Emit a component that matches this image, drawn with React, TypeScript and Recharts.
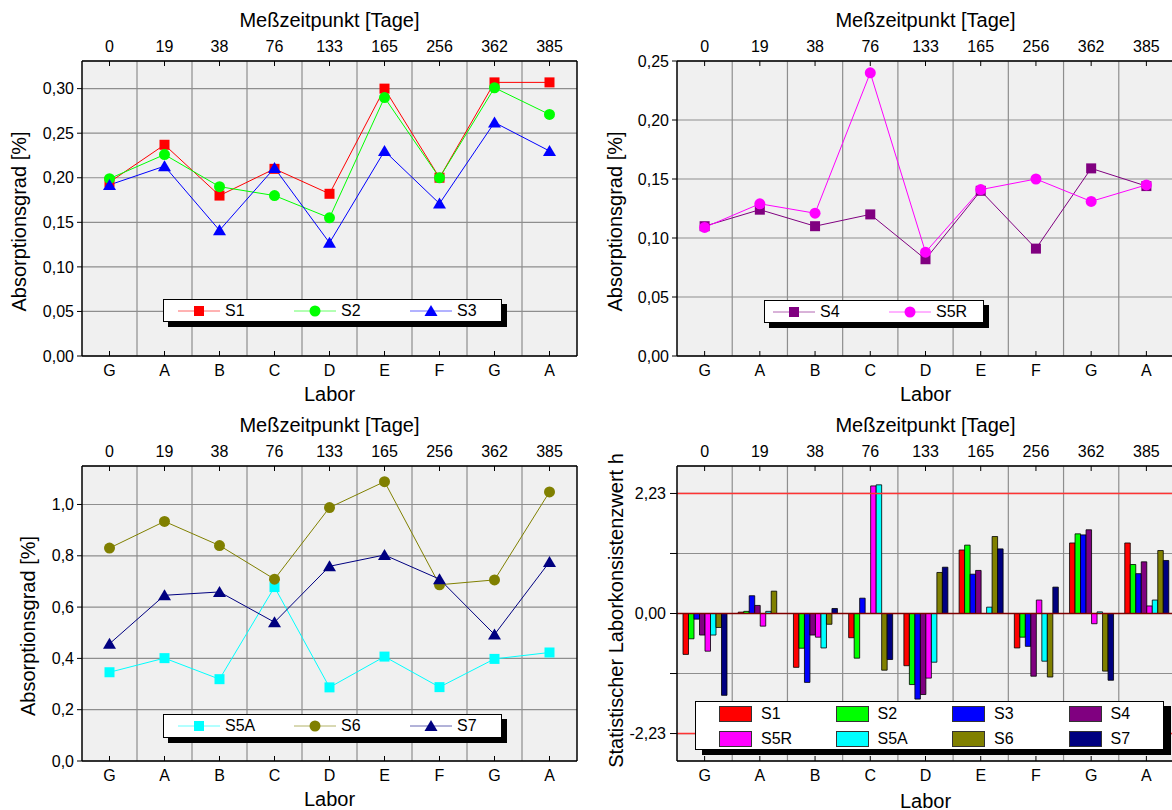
import React from "react";
import {
  LineChart,
  Line,
  BarChart,
  Bar,
  XAxis,
  YAxis,
  CartesianGrid,
  Legend,
  ReferenceLine,
} from "recharts";

const labor = ["G", "A", "B", "C", "D", "E", "F", "G", "A"];
const tage = ["0", "19", "38", "76", "133", "165", "256", "362", "385"];

// Absorptionsgrad [%] je Probe
const s1 = [0.195, 0.237, 0.18, 0.21, 0.182, 0.3, 0.2, 0.307, 0.307];
const s2 = [0.199, 0.226, 0.19, 0.18, 0.155, 0.29, 0.2, 0.301, 0.271];
const s3 = [0.192, 0.213, 0.141, 0.211, 0.127, 0.23, 0.171, 0.262, 0.23];
const s4 = [0.11, 0.124, 0.11, 0.12, 0.082, 0.14, 0.091, 0.159, 0.144];
const s5r = [0.109, 0.129, 0.121, 0.24, 0.088, 0.141, 0.15, 0.131, 0.145];
const s5a = [0.346, 0.401, 0.319, 0.678, 0.287, 0.407, 0.288, 0.398, 0.423];
const s6 = [0.83, 0.934, 0.84, 0.709, 0.988, 1.089, 0.687, 0.706, 1.049];
const s7 = [0.457, 0.646, 0.659, 0.541, 0.759, 0.803, 0.709, 0.493, 0.776];

// statistischer Laborkonsistenzwert h
const h1 = [-0.76, 0.025, -1.0, -0.45, -0.97, 1.18, -0.64, 1.31, 1.31];
const h2 = [-0.47, 0.04, -0.645, -0.83, -1.32, 1.27, -0.44, 1.48, 0.91];
const h3 = [-0.105, 0.33, -1.28, 0.285, -1.59, 0.73, -0.61, 1.46, 0.74];
const h4 = [-0.4, 0.15, -0.4, 0, -1.505, 0.8, -1.165, 1.555, 0.96];
const h5r = [-0.7, -0.235, -0.44, 2.37, -1.2, 0, 0.25, -0.19, 0.14];
const h5a = [-0.4, 0.04, -0.64, 2.39, -0.905, 0.118, -0.886, 0.03, 0.25];
const h6 = [-0.26, 0.415, -0.2, -1.053, 0.762, 1.43, -1.18, -1.07, 1.17];
const h7 = [-1.52, 0, 0.093, -0.855, 0.86, 1.2, 0.49, -1.24, 0.985];
const hLimit = 2.23;

const FONT = "'Liberation Sans', Arial, Helvetica, sans-serif";
const pos = labor.map((_, i) => i);
const bounds = pos.slice(1).map((i) => i - 0.5);

const rows = (cols: Record<string, number[]>) =>
  pos.map((i) => {
    const r: Record<string, number> = { i };
    Object.keys(cols).forEach((k) => (r[k] = cols[k][i]));
    return r;
  });

const comma = (d: number) => (v: number) => v.toFixed(d).replace(".", ",");

type Kind = "square" | "circle" | "triangle";
interface Serie {
  key: string;
  color: string;
  kind: Kind;
}

const COLORS: Record<string, string> = {
  S1: "#ff0000",
  S2: "#00ff00",
  S3: "#0000ff",
  S4: "#800080",
  S5R: "#ff00ff",
  S5A: "#00ffff",
  S6: "#808000",
  S7: "#000080",
};

const GRID = "#8e8e8e";

function Marker({ kind, cx, cy, color }: { kind: Kind; cx: number; cy: number; color: string }) {
  if (kind === "square") return <rect x={cx - 5} y={cy - 5} width={10} height={10} fill={color} />;
  if (kind === "circle") return <circle cx={cx} cy={cy} r={5.5} fill={color} />;
  return (
    <polygon
      points={`${cx},${cy - 6} ${cx + 6.5},${cy + 5} ${cx - 6.5},${cy + 5}`}
      fill={color}
    />
  );
}

function LineLegend({ items, pad }: { items: Serie[]; pad: number }) {
  return (
    <div
      style={{
        boxSizing: "border-box",
        width: "100%",
        height: "100%",
        background: "#fff",
        border: "1.5px solid #000",
        boxShadow: "5px 5px 0 #000",
        display: "flex",
        alignItems: "center",
        paddingLeft: pad,
        fontSize: 16,
        color: "#000",
      }}
    >
      {items.map((s) => (
        <div key={s.key} style={{ width: 116, flexShrink: 0, display: "flex", alignItems: "center" }}>
          <svg width={42} height={14} style={{ display: "block" }}>
            <line x1={0} x2={42} y1={7} y2={7} stroke={s.color} strokeOpacity={0.6} />
            <Marker kind={s.kind} cx={21} cy={7} color={s.color} />
          </svg>
          <span style={{ marginLeft: 5 }}>{s.key}</span>
        </div>
      ))}
    </div>
  );
}

function BarLegend({ items }: { items: string[] }) {
  return (
    <div
      style={{
        boxSizing: "border-box",
        width: "100%",
        height: "100%",
        background: "#fff",
        border: "1.5px solid #000",
        boxShadow: "7px 5px 0 #000",
        padding: "4px 0 0 23px",
        display: "grid",
        gridTemplateColumns: "repeat(4, 116.5px)",
        rowGap: 6,
        fontSize: 16,
        color: "#000",
      }}
    >
      {items.map((k) => (
        <div key={k} style={{ display: "flex", alignItems: "center", height: 16 }}>
          <div
            style={{
              width: 33,
              height: 16,
              boxSizing: "border-box",
              background: COLORS[k],
              border: "1px solid #333",
            }}
          />
          <span style={{ marginLeft: 9 }}>{k}</span>
        </div>
      ))}
    </div>
  );
}

const tickStyle = { fill: "#000", fontSize: 16 };
const axisStyle = { stroke: "#000", strokeWidth: 1.5 };
const titleStyle = { fill: "#000", fontSize: 20 };

// vertical grid lines between the Labor categories
const boundaryLines = () =>
  bounds.map((b) => (
    <ReferenceLine key={`b${b}`} xAxisId="grid" yAxisId="y" x={b} stroke={GRID} strokeWidth={1.2} />
  ));

interface PanelProps {
  left: number;
  top: number;
  width: number;
  yW: number;
  rightW: number;
  series: Serie[];
  data: Record<string, number>[];
  domain: [number, number];
  major: number[];
  minor: number[];
  fmt: (v: number) => string;
  labelX: number;
  labelDy: number;
  legend: { x: number; y: number; w: number; h: number; pad: number };
}

function LinePanel(p: PanelProps) {
  return (
    <div style={{ position: "absolute", left: p.left, top: p.top }}>
      <LineChart width={p.width} height={405} data={p.data} margin={{ top: 0, right: 0, bottom: 0, left: 0 }}>
        <CartesianGrid yAxisId="y" vertical={false} fill="#f0f0f0" stroke={GRID} strokeWidth={1.2} />
        <XAxis
          xAxisId="grid"
          dataKey="i"
          type="number"
          domain={[-0.5, 8.5]}
          ticks={bounds}
          height={0}
          tick={false}
          tickLine={false}
          axisLine={false}
        />
        <XAxis
          xAxisId="bot"
          dataKey="i"
          type="number"
          domain={[-0.5, 8.5]}
          ticks={pos}
          tickFormatter={(v: number) => labor[v]}
          height={49}
          tick={tickStyle}
          tickSize={-5}
          tickMargin={14}
          tickLine={{ stroke: "#000" }}
          axisLine={axisStyle}
          label={{ value: "Labor", position: "insideBottom", offset: 4, ...titleStyle }}
        />
        <XAxis
          xAxisId="top"
          orientation="top"
          dataKey="i"
          type="number"
          domain={[-0.5, 8.5]}
          ticks={pos}
          tickFormatter={(v: number) => tage[v]}
          height={61}
          tick={tickStyle}
          tickSize={-5}
          tickMargin={14.3}
          tickLine={{ stroke: "#000" }}
          axisLine={axisStyle}
          label={{ value: "Meßzeitpunkt [Tage]", position: "insideTop", offset: 13, ...titleStyle }}
        />
        <YAxis
          yAxisId="y"
          domain={p.domain}
          ticks={p.major}
          tickFormatter={p.fmt}
          width={p.yW}
          tick={tickStyle}
          tickSize={5}
          tickMargin={3}
          tickLine={{ stroke: "#000" }}
          axisLine={axisStyle}
          label={{
            value: "Absorptionsgrad [%]",
            angle: -90,
            position: "insideLeft",
            offset: p.labelX,
            dy: p.labelDy,
            textAnchor: "middle",
            ...titleStyle,
          }}
        />
        <YAxis
          yAxisId="minor"
          orientation="left"
          mirror
          domain={p.domain}
          ticks={p.minor}
          width={0}
          tick={false}
          tickSize={5}
          tickLine={{ stroke: "#000" }}
          axisLine={false}
        />
        {p.rightW > 0 && (
          <YAxis
            yAxisId="right"
            orientation="right"
            domain={p.domain}
            ticks={[...p.major, ...p.minor].sort((a, b) => a - b)}
            width={p.rightW}
            tick={false}
            tickSize={-5}
            tickLine={{ stroke: "#000" }}
            axisLine={axisStyle}
          />
        )}
        {boundaryLines()}
        {p.series.map((s) => (
          <Line
            key={s.key}
            xAxisId="bot"
            yAxisId="y"
            dataKey={s.key}
            stroke={s.color}
            strokeWidth={1}
            dot={(d: any) => (
              <Marker key={`${s.key}-${d.index}`} kind={s.kind} cx={d.cx} cy={d.cy} color={s.color} />
            )}
            activeDot={false}
            isAnimationActive={false}
          />
        ))}
        <Legend
          layout="horizontal"
          verticalAlign="middle"
          align="center"
          content={() => <LineLegend items={p.series} pad={p.legend.pad} />}
          wrapperStyle={{ left: p.legend.x, top: p.legend.y, width: p.legend.w, height: p.legend.h }}
        />
      </LineChart>
    </div>
  );
}

const barKeys = ["S1", "S2", "S3", "S4", "S5R", "S5A", "S6", "S7"];
const hData = rows({ S1: h1, S2: h2, S3: h3, S4: h4, S5R: h5r, S5A: h5a, S6: h6, S7: h7 });
const hTicks = [-hLimit, -hLimit / 2, 0, hLimit / 2, hLimit];

function BarPanel() {
  return (
    <div style={{ position: "absolute", left: 590, top: 405 }}>
      <BarChart
        width={584}
        height={405}
        data={hData}
        margin={{ top: 0, right: 0, bottom: 0, left: 0 }}
        barGap={0}
        barSize={5.5}
      >
        <CartesianGrid yAxisId="y" vertical={false} fill="#f0f0f0" stroke={GRID} strokeWidth={1.2} />
        <XAxis
          xAxisId="grid"
          dataKey="i"
          type="number"
          domain={[-0.5, 8.5]}
          ticks={bounds}
          height={0}
          tick={false}
          tickLine={false}
          axisLine={false}
        />
        <XAxis
          xAxisId="bot"
          dataKey="i"
          tickFormatter={(v: number) => labor[v]}
          height={49}
          tick={tickStyle}
          tickSize={-5}
          tickMargin={14}
          tickLine={{ stroke: "#000" }}
          axisLine={axisStyle}
          label={{ value: "Labor", position: "insideBottom", offset: 2.5, ...titleStyle }}
        />
        <XAxis
          xAxisId="top"
          orientation="top"
          dataKey="i"
          tickFormatter={(v: number) => tage[v]}
          height={61}
          tick={tickStyle}
          tickSize={-5}
          tickMargin={14.3}
          tickLine={{ stroke: "#000" }}
          axisLine={axisStyle}
          label={{ value: "Meßzeitpunkt [Tage]", position: "insideTop", offset: 13, ...titleStyle }}
        />
        <YAxis
          yAxisId="y"
          domain={[-2.74, 2.74]}
          ticks={hTicks}
          tickFormatter={(v: number) => (Math.abs(Math.abs(v) - hLimit / 2) < 1e-6 ? "" : comma(2)(v))}
          width={87}
          tick={tickStyle}
          tickSize={7}
          tickMargin={4}
          tickLine={{ stroke: "#000" }}
          axisLine={axisStyle}
          label={{
            value: "Statistischer Laborkonsistenzwert h",
            angle: -90,
            position: "insideLeft",
            offset: 26,
            dy: -3,
            textAnchor: "middle",
            ...titleStyle,
          }}
        />
        {boundaryLines()}
        <ReferenceLine xAxisId="bot" yAxisId="y" y={hLimit} stroke="#ff3333" strokeWidth={1.6} />
        <ReferenceLine xAxisId="bot" yAxisId="y" y={-hLimit} stroke="#ff3333" strokeWidth={1.6} />
        {barKeys.map((k) => (
          <Bar
            key={k}
            xAxisId="bot"
            yAxisId="y"
            dataKey={k}
            fill={COLORS[k]}
            stroke="#000"
            strokeWidth={0.8}
            isAnimationActive={false}
          />
        ))}
        <ReferenceLine xAxisId="bot" yAxisId="y" y={0} stroke="#800000" strokeWidth={1.6} />
        <Legend
          layout="horizontal"
          verticalAlign="middle"
          align="center"
          content={() => <BarLegend items={barKeys} />}
          wrapperStyle={{ left: 105, top: 296, width: 469, height: 49 }}
        />
      </BarChart>
    </div>
  );
}

const majorA = [0, 0.05, 0.1, 0.15, 0.2, 0.25, 0.3];
const minorA = [0.025, 0.075, 0.125, 0.175, 0.225, 0.275, 0.325];
const majorB = [0, 0.05, 0.1, 0.15, 0.2, 0.25];
const minorB = [0.025, 0.075, 0.125, 0.175, 0.225];
const majorC = [0, 0.2, 0.4, 0.6, 0.8, 1.0];
const minorC = [0.1, 0.3, 0.5, 0.7, 0.9, 1.1];

export default function App() {
  return (
    <div
      style={{
        position: "absolute",
        left: 0,
        top: 0,
        width: 1172,
        height: 810,
        overflow: "hidden",
        background: "#fff",
        fontFamily: FONT,
      }}
    >
      <LinePanel
        left={0}
        top={0}
        width={590}
        yW={82}
        rightW={13}
        data={rows({ S1: s1, S2: s2, S3: s3 })}
        series={[
          { key: "S1", color: COLORS.S1, kind: "square" },
          { key: "S2", color: COLORS.S2, kind: "circle" },
          { key: "S3", color: COLORS.S3, kind: "triangle" },
        ]}
        domain={[0, 0.331]}
        major={majorA}
        minor={minorA}
        fmt={comma(2)}
        labelX={19}
        labelDy={13}
        legend={{ x: 163, y: 299, w: 339, h: 23, pad: 14 }}
      />
      <LinePanel
        left={590}
        top={0}
        width={584}
        yW={87}
        rightW={0}
        data={rows({ S4: s4, S5R: s5r })}
        series={[
          { key: "S4", color: COLORS.S4, kind: "square" },
          { key: "S5R", color: COLORS.S5R, kind: "circle" },
        ]}
        domain={[0, 0.25]}
        major={majorB}
        minor={minorB}
        fmt={comma(2)}
        labelX={25}
        labelDy={13}
        legend={{ x: 174, y: 300, w: 220, h: 23, pad: 8 }}
      />
      <LinePanel
        left={0}
        top={405}
        width={590}
        yW={82}
        rightW={13}
        data={rows({ S5A: s5a, S6: s6, S7: s7 })}
        series={[
          { key: "S5A", color: COLORS.S5A, kind: "square" },
          { key: "S6", color: COLORS.S6, kind: "circle" },
          { key: "S7", color: COLORS.S7, kind: "triangle" },
        ]}
        domain={[0, 1.15]}
        major={majorC}
        minor={minorC}
        fmt={comma(1)}
        labelX={28}
        labelDy={12.5}
        legend={{ x: 163, y: 309, w: 339, h: 24, pad: 14 }}
      />
      <BarPanel />
    </div>
  );
}
